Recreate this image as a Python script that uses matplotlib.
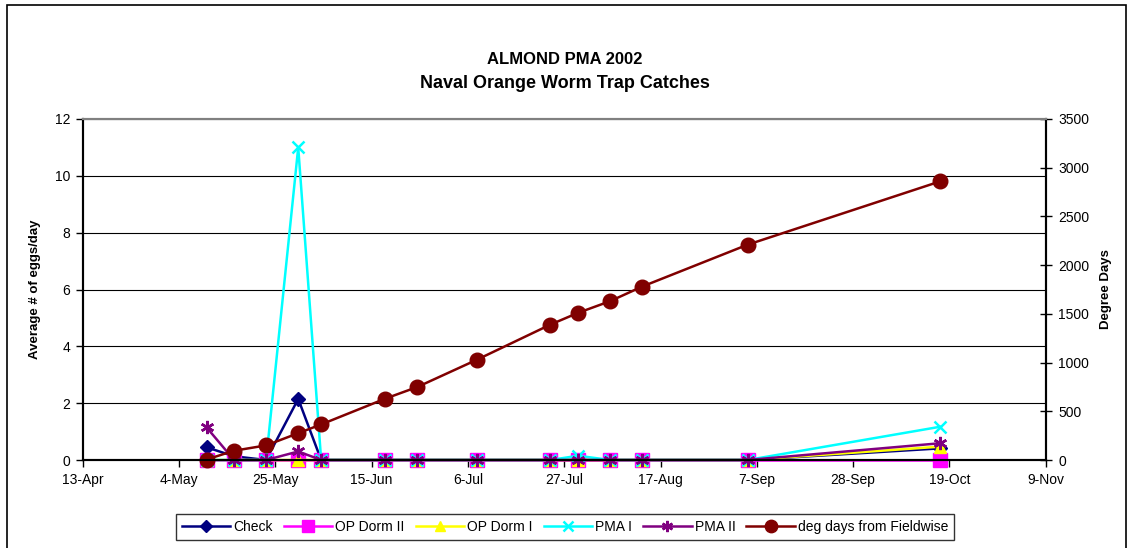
import matplotlib
matplotlib.use("Agg")
import matplotlib.pyplot as plt
from matplotlib.patches import Rectangle
import datetime as dt

plt.rcParams['font.family'] = ['Liberation Sans', 'DejaVu Sans']

# ---- data ----
dates = ["2002-05-10", "2002-05-16", "2002-05-23", "2002-05-30", "2002-06-04",
         "2002-06-18", "2002-06-25", "2002-07-08", "2002-07-24", "2002-07-30",
         "2002-08-06", "2002-08-13", "2002-09-05", "2002-10-17"]
check      = [0.45, 0.13, 0, 2.15, 0, 0, 0, 0, 0, 0, 0, 0, 0, 0.41]
op_dorm_ii = [0, 0, 0, 0, 0, 0, 0, 0, 0, 0, 0, 0, 0, 0]
op_dorm_i  = [0, 0, 0, 0, 0, 0, 0, 0, 0, 0, 0, 0, 0, 0.47]
pma_i      = [0, 0, 0, 11, 0, 0, 0, 0, 0, 0.15, 0, 0, 0, 1.17]
pma_ii     = [1.15, 0, 0, 0.3, 0, 0, 0, 0, 0, 0, 0, 0, 0, 0.59]
deg_days   = [5, 95, 150, 275, 365, 630, 750, 1030, 1390, 1510, 1630, 1780, 2210, 2860]

x_tick_dates = ["2002-04-13", "2002-05-04", "2002-05-25", "2002-06-15", "2002-07-06",
                "2002-07-27", "2002-08-17", "2002-09-07", "2002-09-28", "2002-10-19",
                "2002-11-09"]
x_tick_labels = ["13-Apr", "4-May", "25-May", "15-Jun", "6-Jul", "27-Jul",
                 "17-Aug", "7-Sep", "28-Sep", "19-Oct", "9-Nov"]
left_ticks = [0, 2, 4, 6, 8, 10, 12]
right_ticks = [0, 500, 1000, 1500, 2000, 2500, 3000, 3500]

d = [dt.datetime.strptime(s, "%Y-%m-%d") for s in dates]
xt = [dt.datetime.strptime(s, "%Y-%m-%d") for s in x_tick_dates]

W, H = 1130, 548
fig = plt.figure(figsize=(W / 100, H / 100), dpi=100)
fig.patch.set_facecolor('white')

# outer border
fig.patches.append(Rectangle((7 / W, -0.05), (1126 - 7) / W, 1.05 - 5 / H,
                             transform=fig.transFigure, fill=False,
                             edgecolor='black', linewidth=1.2, zorder=0))

L, R, T, B = 82.7, 1045.7, 119, 460
ax = fig.add_axes([L / W, 1 - B / H, (R - L) / W, (B - T) / H])
ax2 = ax.twinx()

lw = 1.8
ax.plot(d, check, color='#000080', lw=lw, marker='D', ms=7, label='Check', clip_on=False)
ax.plot(d, op_dorm_ii, color='#FF00FF', lw=lw, marker='s', ms=10, label='OP Dorm II', clip_on=False)
ax.plot(d, op_dorm_i, color='#FFFF00', lw=lw, marker='^', ms=8.5, label='OP Dorm I', clip_on=False)
ax.plot(d, pma_i, color='#00FFFF', lw=lw, marker='x', ms=9, mew=1.8, label='PMA I', clip_on=False)
ax.plot(d, pma_ii, color='#800080', lw=lw, marker=(6, 2, 0), ms=9.5, mew=1.8, label='PMA II', clip_on=False)
ax2.plot(d, deg_days, color='#800000', lw=lw, marker='o', ms=10.5, label='deg days from Fieldwise', clip_on=False)

ax.set_xlim(xt[0], xt[-1])
ax.set_ylim(0, 12)
ax2.set_ylim(0, 3500)
ax.set_xticks(xt)
ax.set_xticklabels(x_tick_labels)
ax.set_yticks(left_ticks)
ax.set_yticklabels([str(v) for v in left_ticks])
ax2.set_yticks(right_ticks)
ax2.set_yticklabels([str(v) for v in right_ticks])

for a in (ax, ax2):
    a.tick_params(labelsize=10, colors='black', width=1, length=5)
ax.tick_params(axis='x', direction='out', pad=4.5)
ax.tick_params(axis='y', direction='out', pad=4)
ax2.tick_params(axis='y', direction='inout', length=8, pad=5)

ax.grid(axis='y', color='black', lw=0.8)
ax.set_axisbelow(True)

for a in (ax, ax2):
    a.spines['top'].set_color('#808080')
    a.spines['top'].set_linewidth(1.5)
    a.spines['left'].set_linewidth(1.5)
    a.spines['right'].set_linewidth(1.5)
    a.spines['bottom'].set_linewidth(1.5)

ax.set_ylabel('Average # of eggs/day', fontsize=9.5, fontweight='bold', labelpad=10)
ax2.set_ylabel('Degree Days', fontsize=9.5, fontweight='bold', rotation=90, labelpad=8)

fig.text(0.5, 1 - 59 / H, 'ALMOND PMA 2002', ha='center', va='center',
         fontsize=12, fontweight='bold')
fig.text(0.5, 1 - 84 / H, 'Naval Orange Worm Trap Catches', ha='center', va='center',
         fontsize=13, fontweight='bold')

h1, l1 = ax.get_legend_handles_labels()
h2, l2 = ax2.get_legend_handles_labels()
leg = fig.legend(h1 + h2, l1 + l2, loc='center', bbox_to_anchor=(565 / W, 1 - 527 / H),
                 ncol=6, fontsize=10, frameon=True, fancybox=False, edgecolor='black',
                 handlelength=3.5, columnspacing=0.8, handletextpad=0.2,
                 borderpad=0.4, markerscale=0.85)
leg.get_frame().set_linewidth(1.0)

fig.savefig('out.png', dpi=100, facecolor='white')
